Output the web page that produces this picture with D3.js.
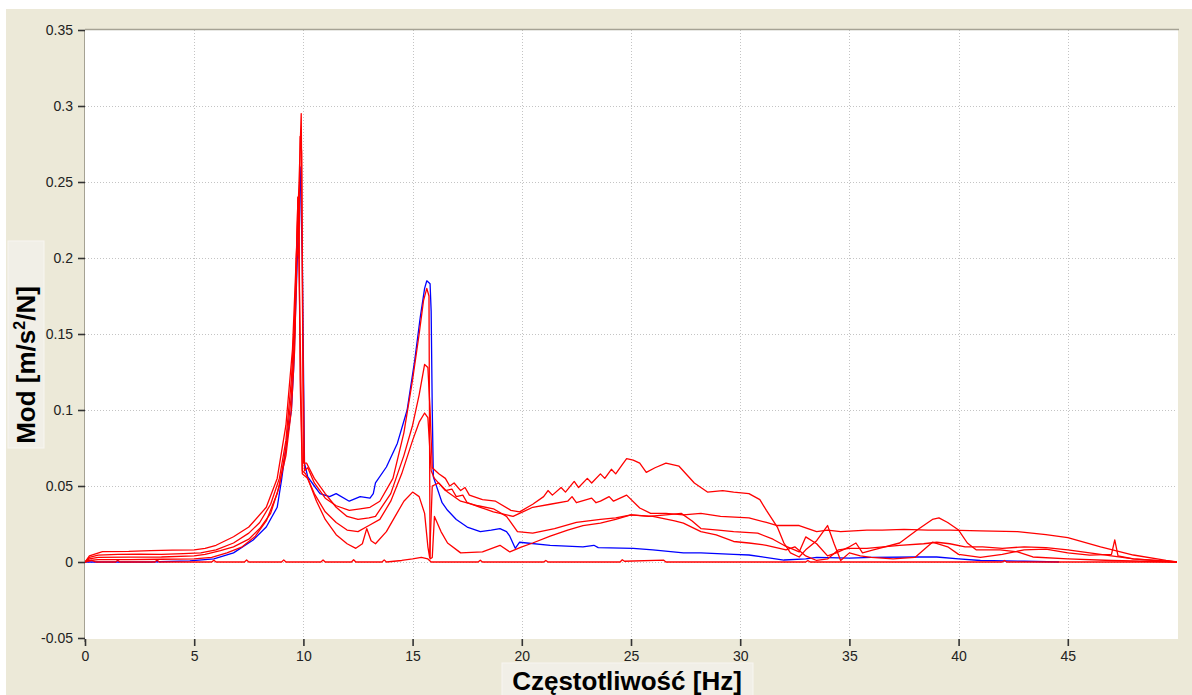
<!DOCTYPE html>
<html>
<head>
<meta charset="utf-8">
<script src="https://cdn.jsdelivr.net/npm/d3@7"></script>
<style>
  body { margin: 0; background: #fff; }
  svg { display: block; }
</style>
</head>
<body>
<div id="chart"></div>
<script>
// tick labels
const freqTicks = [0, 5, 10, 15, 20, 25, 30, 35, 40, 45];
const modTicks = [-0.05, 0, 0.05, 0.1, 0.15, 0.2, 0.25, 0.3, 0.35];

// [Hz, mod] pairs
const blueSeries = [[0,0],[3,0],[4.8,0.0007],[5.9,0.002],[6.8,0.006],[7.7,0.0145],[8.3,0.023],[8.8,0.036],[9.0,0.054],[9.2,0.075],[9.45,0.1],[9.55,0.126],[9.7,0.19],[9.85,0.26],[9.95,0.2],[10.05,0.065],[10.2,0.056],[10.5,0.05],[10.76,0.045],[11.2,0.043],[11.5,0.045],[12.1,0.04],[12.6,0.043],[13.05,0.042],[13.2,0.045],[13.3,0.052],[13.8,0.0625],[14.3,0.078],[14.75,0.1],[15.1,0.133],[15.35,0.161],[15.55,0.18],[15.65,0.185],[15.8,0.183],[15.85,0.165],[15.9,0.1],[15.95,0.056],[16.35,0.039],[16.6,0.034],[17.0,0.028],[17.5,0.023],[18.1,0.02],[18.6,0.021],[19.0,0.022],[19.3,0.02],[19.45,0.017],[19.7,0.009],[19.9,0.013],[21.3,0.011],[22.8,0.01],[23.3,0.011],[23.5,0.0095],[25.1,0.009],[26,0.008],[27.4,0.006],[28.2,0.006],[29.7,0.005],[30.4,0.0046],[32,0.0013],[33,0.002],[33.5,0.003],[35,0.0026],[36,0.003],[38.1,0.0033],[39,0.0033],[40,0.002],[41,0.001],[43,0.0005],[44.6,0]];

const redSeries1 = [[0,0],[0.2,0.003],[0.6,0.0045],[1.5,0.005],[2.5,0.0052],[3.5,0.005],[4.5,0.0055],[5.3,0.006],[6,0.008],[6.8,0.0125],[7.5,0.019],[8,0.026],[8.5,0.038],[8.9,0.055],[9.2,0.08],[9.45,0.12],[9.6,0.16],[9.75,0.24],[9.8,0.2],[9.85,0.28],[9.92,0.27],[9.97,0.15],[10.05,0.06],[10.2,0.062],[10.5,0.052],[11,0.042],[11.5,0.037],[12.1,0.034],[12.6,0.035],[13.05,0.036],[13.5,0.04],[14.1,0.055],[14.6,0.085],[15,0.12],[15.3,0.15],[15.5,0.172],[15.65,0.18],[15.75,0.175],[15.8,0.002],[15.9,0.003],[16.0,0.03],[16.3,0.02],[16.6,0.0125],[17.2,0.006],[18.2,0.0066],[19,0.011],[19.45,0.0066],[20,0.01],[20.5,0.0125],[21.3,0.017],[22.1,0.021],[22.8,0.024],[23.6,0.0256],[24.3,0.028],[25,0.031],[25.8,0.03],[26.6,0.031],[27.3,0.032],[27.8,0.027],[28.2,0.022],[29,0.021],[29.7,0.02],[30.8,0.019],[31.5,0.015],[32,0.011],[32.7,0.0066],[33,0.0165],[33.5,0.012],[34,0.004],[34.4,0.006],[35,0.01],[35.3,0.0125],[35.6,0.006],[36.1,0.008],[37.3,0.0125],[38.1,0.021],[38.8,0.028],[39.1,0.029],[39.5,0.026],[40,0.021],[40.4,0.0125],[40.8,0.008],[41.9,0.008],[42.7,0.0066],[43.4,0.0033],[45,0.002],[47,0.001],[50,0]];

const redSeries2 = [[0,0],[0.2,0.004],[0.8,0.0068],[2,0.007],[3,0.0075],[4,0.0078],[5,0.008],[5.5,0.009],[6,0.011],[6.8,0.0166],[7.5,0.023],[8.3,0.036],[8.8,0.055],[9.2,0.09],[9.5,0.14],[9.7,0.21],[9.8,0.25],[9.9,0.295],[9.95,0.2],[10.0,0.065],[10.15,0.065],[10.5,0.055],[11,0.045],[11.5,0.036],[12,0.03],[12.5,0.028],[13,0.029],[13.3,0.03],[14,0.045],[14.6,0.07],[15,0.09],[15.3,0.11],[15.55,0.13],[15.7,0.128],[15.8,0.1],[15.9,0.062],[16.2,0.058],[16.5,0.055],[16.7,0.05],[16.9,0.052],[17.2,0.047],[17.4,0.049],[17.6,0.044],[18.2,0.041],[18.8,0.04],[19.5,0.034],[19.9,0.033],[20.5,0.038],[21.0,0.043],[21.2,0.047],[21.4,0.044],[21.8,0.049],[22.0,0.046],[22.4,0.053],[22.6,0.049],[23.0,0.055],[23.2,0.052],[23.6,0.058],[23.8,0.055],[24.1,0.061],[24.3,0.058],[24.6,0.064],[24.8,0.068],[25.1,0.067],[25.4,0.065],[25.7,0.059],[26.1,0.062],[26.6,0.065],[27.2,0.063],[27.9,0.052],[28.5,0.046],[29.2,0.047],[29.7,0.046],[30.4,0.045],[30.9,0.041],[31.2,0.034],[31.7,0.023],[32,0.0125],[32.3,0.006],[32.7,0.0033],[33,0.008],[33.5,0.014],[34,0.024],[34.3,0.012],[34.6,0.001],[35,0.006],[35.5,0.004],[36,0.003],[37,0.002],[38,0.003],[38.8,0.013],[39.5,0.01],[40,0.005],[41,0.003],[42,0.005],[43,0.008],[44,0.0085],[45,0.006],[46,0.0045],[47,0.005],[47.15,0.0145],[47.3,0.004],[48,0.002],[50,0]];

const redSeries3 = [[0,0],[0.2,0.002],[0.6,0.003],[2,0.0032],[3.5,0.0033],[5,0.004],[5.5,0.005],[6.2,0.0075],[6.8,0.01],[7.5,0.015],[8,0.022],[8.5,0.032],[8.9,0.05],[9.2,0.075],[9.45,0.11],[9.6,0.15],[9.7,0.21],[9.75,0.24],[9.8,0.22],[9.85,0.12],[9.95,0.06],[10.1,0.058],[10.5,0.045],[11,0.033],[11.5,0.026],[12,0.021],[12.5,0.02],[13,0.024],[13.5,0.028],[14,0.04],[14.5,0.058],[15,0.08],[15.3,0.092],[15.55,0.098],[15.7,0.095],[15.85,0.06],[16,0.055],[16.5,0.047],[16.8,0.048],[17,0.043],[17.3,0.044],[17.5,0.039],[18.1,0.036],[18.7,0.033],[19.6,0.03],[20.5,0.036],[21.3,0.038],[22.1,0.04],[22.3,0.043],[22.5,0.039],[23.2,0.042],[23.4,0.039],[23.6,0.04],[24.0,0.043],[24.2,0.04],[24.8,0.044],[25.4,0.0355],[25.9,0.032],[26.6,0.032],[27.4,0.031],[28.2,0.032],[29.1,0.03],[30.4,0.029],[31.2,0.026],[31.7,0.024],[32.7,0.024],[33.5,0.02],[34,0.021],[34.6,0.02],[35.8,0.021],[36.5,0.021],[37.5,0.0215],[38.6,0.021],[39.6,0.021],[41,0.0205],[42.7,0.02],[44,0.018],[45,0.016],[46.5,0.01],[48,0.0046],[49.5,0.001],[50,0]];

const redSeries4 = [[0,0],[0.2,0.001],[0.6,0.0015],[2,0.0015],[3.5,0.0018],[5,0.002],[5.8,0.003],[6.5,0.006],[7.2,0.01],[7.8,0.017],[8.3,0.027],[8.8,0.045],[9.2,0.07],[9.45,0.1],[9.6,0.14],[9.7,0.2],[9.78,0.21],[9.85,0.15],[9.95,0.058],[10.2,0.055],[10.6,0.04],[11,0.028],[11.5,0.018],[12,0.012],[12.4,0.009],[12.7,0.012],[12.9,0.022],[13.1,0.014],[13.3,0.012],[13.8,0.02],[14.2,0.03],[14.6,0.04],[15,0.046],[15.3,0.043],[15.55,0.032],[15.7,0.01],[15.78,0.003],[15.9,0.05],[16.2,0.052],[16.6,0.046],[17.2,0.04],[18,0.037],[18.7,0.035],[19.3,0.03],[19.8,0.02],[20.5,0.019],[21.5,0.022],[22.5,0.026],[23.6,0.028],[24.3,0.029],[25,0.031],[26,0.03],[27,0.027],[27.4,0.0256],[28.2,0.02],[28.9,0.0178],[29.7,0.0135],[30.4,0.0125],[31.2,0.011],[32.1,0.008],[32.5,0.01],[33,0.004],[33.5,0.001],[34,0.002],[34.5,0.008],[35,0.009],[35.8,0.009],[37.3,0.011],[38.4,0.012],[39,0.013],[39.6,0.012],[40.3,0.01],[41.1,0.01],[42,0.009],[43,0.01],[44,0.0095],[45,0.008],[46,0.006],[47,0.004],[48,0.002],[49.5,0.0005],[50,0]];

const redSeries5 = [[0,0],[0.3,0.001],[0.5,0],[1.4,0],[1.5,0.0012],[1.6,0],[3.2,0],[3.3,0.0013],[3.4,0],[5.8,0],[5.9,0.0012],[6,0],[7.3,0],[7.4,0.0013],[7.5,0],[9,0],[9.1,0.0014],[9.2,0],[10.8,0],[10.9,0.0013],[11,0],[12.2,0],[12.3,0.0015],[12.4,0],[13.6,0],[13.7,0.0014],[13.8,0],[14.5,0.001],[15,0.002],[15.4,0.003],[15.7,0.002],[15.85,0],[18,0],[18.1,0.0012],[18.2,0],[21,0],[21.1,0.001],[21.2,0],[24.5,0],[24.6,0.0015],[24.7,0.0005],[26.5,0.0012],[26.6,0],[33,0],[33.1,0.001],[33.2,0],[42,0],[42.1,0.001],[42.2,0],[50,0]];

const width = 1192, height = 695;
const plotLeft = 85, plotTop = 30, plotRight = 1178, plotBottom = 639;

const x = d3.scaleLinear().domain([0, 50]).range([85, 1177]);
const y = d3.scaleLinear().domain([-0.05, 0.35]).range([638, 30]);

const svg = d3.select('#chart').append('svg').attr('width', width).attr('height', height);

// window panel + plot area
svg.append('rect').attr('x', 6).attr('y', 9).attr('width', width - 6).attr('height', height - 9).attr('fill', '#ece9d8');
svg.append('rect').attr('x', plotLeft).attr('y', plotTop).attr('width', plotRight - plotLeft).attr('height', plotBottom - plotTop).attr('fill', '#fff');

// dotted grid
const grid = svg.append('g').attr('stroke', '#c4c4c4').attr('stroke-dasharray', '1,2').attr('stroke-width', 1);
grid.selectAll('line.v').data(freqTicks.filter(d => d > 0)).join('line')
  .attr('x1', d => Math.round(x(d)) + 0.5).attr('x2', d => Math.round(x(d)) + 0.5)
  .attr('y1', plotTop).attr('y2', plotBottom);
grid.selectAll('line.h').data(modTicks.filter(d => d > -0.05 && d < 0.35)).join('line')
  .attr('x1', plotLeft).attr('x2', plotRight - 1)
  .attr('y1', d => Math.round(y(d)) + 0.5).attr('y2', d => Math.round(y(d)) + 0.5);

// frame lines
svg.append('line').attr('x1', plotLeft).attr('x2', plotRight + 1).attr('y1', plotTop - 0.5).attr('y2', plotTop - 0.5).attr('stroke', '#a5a294').attr('stroke-width', 1.5);
svg.append('line').attr('x1', plotLeft - 0.5).attr('x2', plotLeft - 0.5).attr('y1', plotTop).attr('y2', plotBottom + 3).attr('stroke', '#a5a294').attr('stroke-width', 1);

// curves
svg.append('clipPath').attr('id', 'clip').append('rect')
  .attr('x', plotLeft).attr('y', plotTop).attr('width', plotRight - plotLeft).attr('height', plotBottom - plotTop);
const line = d3.line().x(d => x(d[0])).y(d => y(d[1]));
const curves = svg.append('g').attr('clip-path', 'url(#clip)').attr('fill', 'none').attr('stroke-width', 1.3).attr('stroke-linejoin', 'round');
curves.append('path').datum(blueSeries).attr('d', line).attr('stroke', '#0000ff');
[redSeries1, redSeries2, redSeries3, redSeries4, redSeries5].forEach(s => {
  curves.append('path').datum(s).attr('d', line).attr('stroke', '#ff0000');
});

// axes
const fmt = d => String(+d.toFixed(2));
const yAxis = d3.axisLeft(y).tickValues(modTicks).tickSize(7).tickPadding(5).tickFormat(fmt);
const xAxis = d3.axisBottom(x).tickValues(freqTicks).tickSize(7).tickPadding(5).tickFormat(fmt);
const gy = svg.append('g').attr('transform', `translate(${plotLeft},0)`).call(yAxis);
const gx = svg.append('g').attr('transform', `translate(0,${plotBottom})`).call(xAxis);
[gx, gy].forEach(g => {
  g.select('.domain').remove();
  g.selectAll('.tick line').attr('stroke', '#333').attr('stroke-width', 1.6);
  g.selectAll('.tick text').attr('fill', '#222').style('font-family', '"Liberation Sans", Arial, sans-serif').style('font-size', '14px');
});

// axis titles
svg.append('rect').attr('x', 8).attr('y', 241).attr('width', 36).attr('height', 207).attr('fill', '#f1efe7').attr('stroke', '#f7f6f1');
const yTitle = svg.append('text')
  .attr('transform', 'translate(35,365) rotate(-90)')
  .attr('text-anchor', 'middle')
  .style('font-family', '"Liberation Sans", Arial, sans-serif').style('font-weight', 'bold').style('font-size', '26px').attr('fill', '#000');
yTitle.append('tspan').text('Mod [m/s');
yTitle.append('tspan').attr('dy', -10).style('font-size', '16px').text('2');
yTitle.append('tspan').attr('dy', 10).text('/N]');

svg.append('rect').attr('x', 502).attr('y', 663).attr('width', 251).attr('height', 40).attr('fill', '#f1efe7').attr('stroke', '#f7f6f1');
svg.append('text').attr('x', 627).attr('y', 690).attr('text-anchor', 'middle')
  .style('font-family', '"Liberation Sans", Arial, sans-serif').style('font-weight', 'bold').style('font-size', '26px').attr('fill', '#000')
  .text('Częstotliwość [Hz]');
</script>
</body>
</html>
